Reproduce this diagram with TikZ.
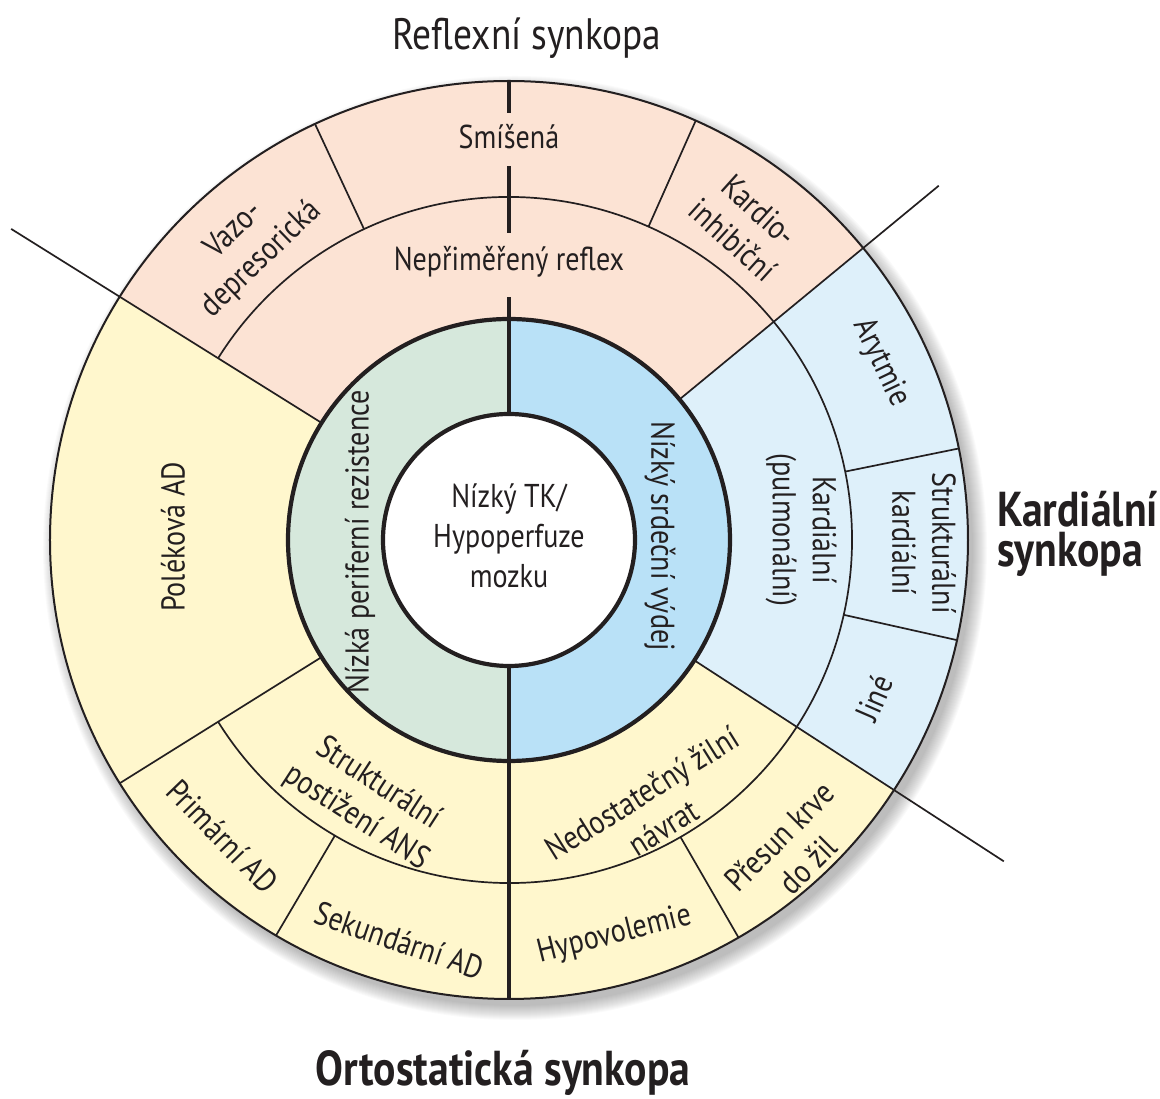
\documentclass[tikz,border=0pt]{standalone}
\usepackage{fontspec}
\setmainfont{PT Sans}[FakeStretch=0.85]
\definecolor{peach}{RGB}{252,227,212}
\definecolor{pyellow}{RGB}{255,247,205}
\definecolor{pblue}{RGB}{222,240,250}
\definecolor{igreen}{RGB}{214,232,220}
\definecolor{iblue}{RGB}{185,225,247}
\definecolor{txt}{RGB}{35,31,32}
\tikzset{
 thinline/.style={line width=1.7pt, draw=txt},
 outline/.style={line width=2pt, draw=txt},
 thickline/.style={line width=4.2pt, draw=txt},
 lbl/.style={font=\fontsize{33}{40}\selectfont, text=txt, align=center, inner sep=0pt},
 ttl/.style={font=\fontsize{44}{50}\selectfont, text=txt, inner sep=0pt},
 bttl/.style={font=\bfseries\fontsize{49}{54}\selectfont, text=txt, inner sep=0pt},
}
\newcommand\annsec[5]{\fill[#1] (#2:#4) -- (#2:#5) arc[start angle=#2, end angle=#3, radius=#5] -- (#3:#4) arc[start angle=#3, end angle=#2, radius=#4] -- cycle;}
\begin{document}
\begin{tikzpicture}[x=1pt,y=1pt]
\useasboundingbox (-509,-559) rectangle (651,540);
% soft shadow
\foreach \k in {0,...,14} \fill[black,opacity=0.018] (6,-8) circle[radius=458+\k];
% sectors
\annsec{peach}{39.5}{148}{221}{459}
\annsec{pblue}{-33}{39.5}{221}{459}
\annsec{pyellow}{148}{327}{221}{459}
\annsec{igreen}{90}{270}{126}{221}
\annsec{iblue}{-90}{90}{126}{221}
\fill[white] (0,0) circle[radius=126];
% thin lines
\draw[outline] (0,0) circle[radius=459];
\draw[thinline] (-148:343) arc[start angle=-148, end angle=148, radius=343];
\draw[thinline] (148:221) -- (148:587);
\draw[thinline] (39.5:221) -- (39.5:557);
\draw[thinline] (-33:221) -- (-33:590);
\draw[thinline] (212:221) -- (212:459);
\foreach \a in {115,66,11.5,-12.6,-60,-120.5} \draw[thinline] (\a:343) -- (\a:459);
% thick lines
\draw[thickline] (0,0) circle[radius=221];
\draw[thickline] (0,0) circle[radius=126];
\draw[thickline] (0,-126) -- (0,-459);
\draw[thickline] (0,126) -- (0,243);
\draw[thickline] (0,307) -- (0,374);
\draw[thickline] (0,427) -- (0,459);
% labels
\node[lbl] (center) at (0,4) {Nízký TK/\\Hypoperfuze\\mozku};
\node[lbl, rotate=90] (npr) at (-149,-2) {Nízká periferní rezistence};
\node[lbl, rotate=-90] (nsv) at (151,4) {Nízký srdeční výdej};
\node[lbl] (smis) at (0,403) {Smíšená};
\node[lbl] (nepr) at (0,278) {Nepřiměřený reflex};
\node[lbl, rotate=44] (vazo) at (131.5:394) {Vazo-\\depresorická};
\node[lbl, rotate=-42] (kinh) at (53:394) {Kardio-\\inhibiční};
\node[lbl, rotate=-90] (kpul) at (292,10) {Kardiální\\(pulmonální)};
\node[lbl, rotate=-64.5] (aryt) at (25.5:412) {Arytmie};
\node[lbl, rotate=-90] (strk) at (415,-3) {Strukturální\\kardiální};
\node[lbl, rotate=66.6] (jine) at (-23.4:398) {Jiné};
\node[lbl, rotate=45] (pres) at (-47.5:421) {Přesun krve\\do žil};
\node[lbl, rotate=14] (hypo) at (-75:409) {Hypovolemie};
\node[lbl, rotate=32] (nedo) at (-62:306) {Nedostatečný žilní\\návrat};
\node[lbl, rotate=-33] (ans) at (-118.5:297) {Strukturální\\postižení ANS};
\node[lbl, rotate=-19] (seku) at (-105.3:415) {Sekundární AD};
\node[lbl, rotate=-46] (prim) at (-134:412) {Primární AD};
\node[lbl, rotate=90] (pole) at (-336,3) {Poléková AD};
% titles
\node[ttl, anchor=base] (trefl) at (18,490) {Reflexní synkopa};
\node[bttl, anchor=base west] (tkard1) at (488,13) {Kardiální};
\node[bttl, anchor=base west] (tkard2) at (488,-27) {synkopa};
\node[bttl, anchor=base] (torto) at (-6,-545) {Ortostatická synkopa};
\end{tikzpicture}
\end{document}
